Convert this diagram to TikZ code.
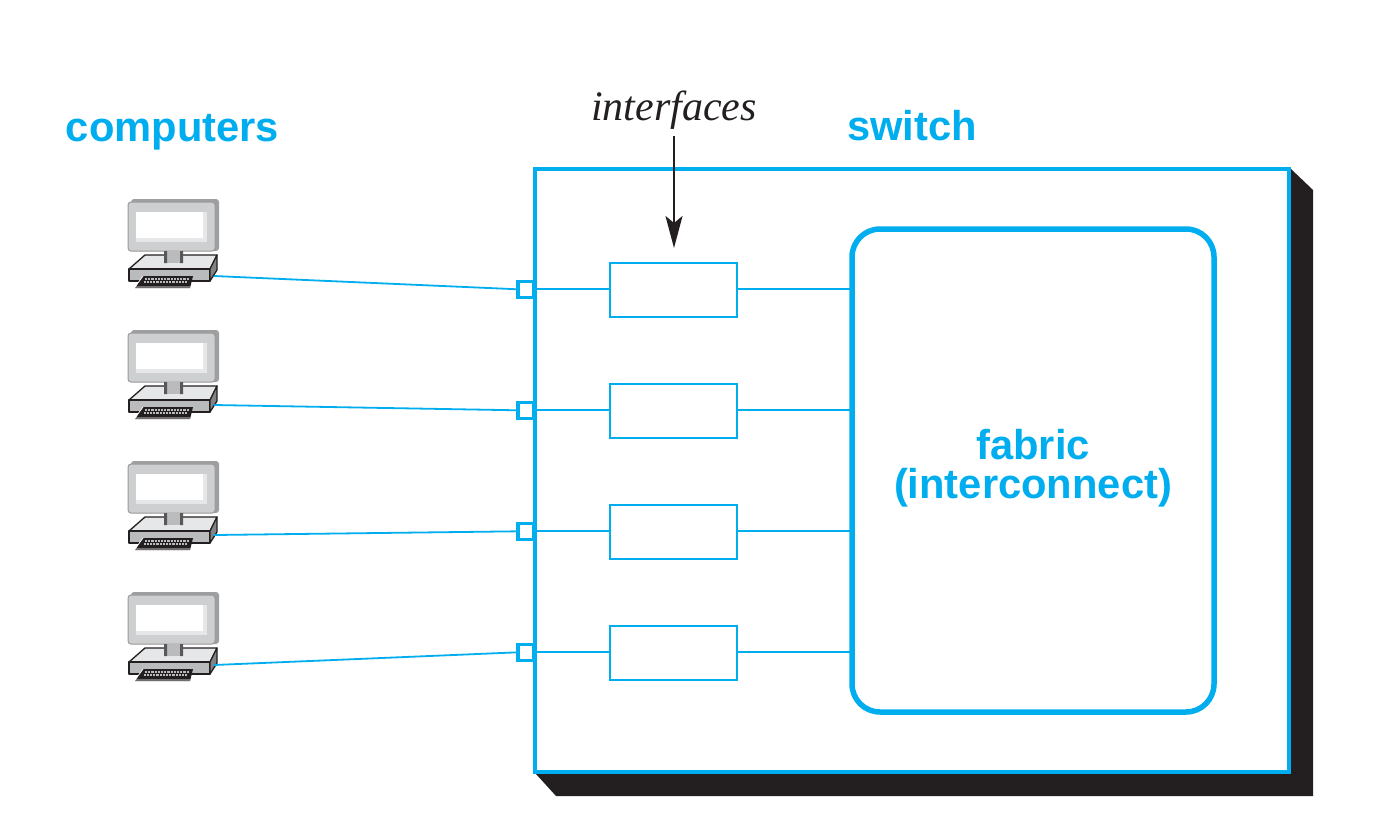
\documentclass[tikz,border=0pt]{standalone}
\usepackage{fontspec}
\setmainfont{Liberation Sans}
\newfontfamily\itfont{Liberation Serif}
\usetikzlibrary{arrows.meta,positioning}
\definecolor{netblue}{HTML}{00AEEF}
\definecolor{inkblack}{HTML}{231F20}
\definecolor{pcgrey}{HTML}{B9BBBD}
\definecolor{pclight}{HTML}{E6E7E8}
\tikzset{%
    port/.style={draw=netblue,fill=white,line width=3.6pt,minimum size=16pt,inner sep=0pt,outer sep=0pt},
    iface/.style={draw=netblue,fill=white,line width=1.8pt,minimum width=127pt,minimum height=54pt,inner sep=0pt,outer sep=0pt},
    wire/.style={draw=netblue,line width=1.8pt},
    lbl/.style={text=netblue,font=\fontsize{41.7}{39}\selectfont\bfseries,align=center,inner sep=0pt},
    computer/.pic={
        \coordinate (-port) at (86,76);
        % monitor
        \fill[pcgrey!85!black,rounded corners=3pt] (3,-1) rectangle (91,51);
        \draw[inkblack!45,fill=pcgrey!70!white,line width=1pt,rounded corners=3pt] (0,2) rectangle (87,51);
        \fill[pclight] (8,12) rectangle (79,42);
        \fill[white] (8,12) rectangle (75,38);
        % base
        \draw[inkblack,line width=1.3pt,line join=round,fill=pclight] (1,69) -- (17,55) -- (89,55) -- (82,69) -- cycle;
        \draw[inkblack,line width=1.3pt,line join=round,fill=pcgrey] (1,69) rectangle (82,81);
        \draw[inkblack,line width=1.3pt,line join=round,fill=pcgrey!70!black] (82,69) -- (89,55) -- (89,70) -- (82,81) -- cycle;
        \fill[pcgrey] (36,51) rectangle (55,63);
        \fill[inkblack!75] (36,51) rectangle (39,63) (52,51) rectangle (55,63);
        % keyboard
        \fill[inkblack] (15,76) -- (65,76) -- (62,88) -- (7,88) -- cycle;
        \draw[white,line width=.7pt] (15,76) -- (7,87) -- (62,87);
        \foreach \col in {0,...,13} {
            \fill[pcgrey] (17+3.2*\col,78) rectangle +(2.2,1.6);
            \fill[pcgrey] (15.5+3.2*\col,81) rectangle +(2.2,1.6);
        }
    },
}
\begin{document}
\begin{tikzpicture}[x=1pt,y=-1pt]
    \useasboundingbox (0,0) rectangle (1391,825);
    % shadow and switch
    \fill[inkblack] (1291,169) -- (1313,190) -- (1313,796) -- (556,796) -- (536,774) -- cycle;
    \node [draw=netblue,fill=white,line width=4pt,minimum width=754pt,minimum height=603pt,inner sep=0pt,outer sep=0pt] (switch) at (912,470.5) {};
    \node [draw=netblue,line width=5.5pt,rounded corners=28pt,minimum width=362pt,minimum height=483pt,inner sep=0pt,outer sep=0pt] (fabric) at (1033,470.5) {};
    \node [lbl] (fabriclbl) at (1033,468) {fabric\\(interconnect)};
    \node [lbl] (computerslbl) at (172.5,132) {computers};
    \node [lbl] (switchlbl) at (912,126) {switch};
    \node [font=\fontsize{42}{42}\selectfont\itfont\itshape,text=inkblack,inner sep=0pt] (ifacelbl) at (674,110) {interfaces};
    % interfaces
    \node [iface] (i1) at (673.5,289.8) {};
    \node [iface,below=67pt of i1] (i2) {};
    \node [iface,below=67pt of i2] (i3) {};
    \node [iface,below=67pt of i3] (i4) {};
    \coordinate (tip) at (674,248);
    \draw[inkblack,line width=2pt,-{Stealth[length=32pt,width=17pt,inset=7pt]}] (674,136) -- (tip);
    \foreach \n/\yy/\cy/\sy in {1/289.3/200/0,2/410.3/331/2,3/531.3/462/3,4/652.3/593/4} {
        \node [port] (p\n) at (526,\yy) {};
        \pic (c\n) at (128,\cy) {computer};
        \draw[wire] ([yshift=\sy pt]c\n-port) -- (p\n.west);
        \draw[wire] (p\n.east) -- (p\n.east -| i\n.west);
        \draw[wire] (p\n.east -| i\n.east) -- (p\n.east -| fabric.west);
    }
\end{tikzpicture}
\end{document}
